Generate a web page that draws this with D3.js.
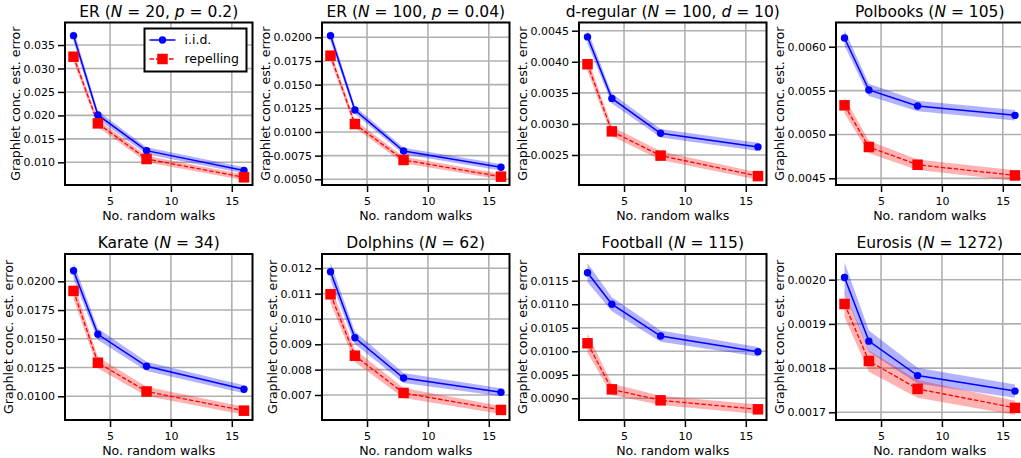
<!DOCTYPE html>
<html><head><meta charset="utf-8">
<script src="https://cdn.jsdelivr.net/npm/d3@7"></script>
<style>body{margin:0;background:#fff} svg{display:block} text{font-family:"DejaVu Sans",sans-serif;fill:#000}</style>
</head><body><svg id="c" width="1021" height="458"></svg>
<script>
// ---------- data ----------
const walks = [2, 4, 8, 16];
const xTicks = [5, 10, 15];
const titles = [
  [["ER (",0],["N",1],[" = 20, ",0],["p",1],[" = 0.2)",0]],
  [["ER (",0],["N",1],[" = 100, ",0],["p",1],[" = 0.04)",0]],
  [["d-regular (",0],["N",1],[" = 100, ",0],["d",1],[" = 10)",0]],
  [["Polbooks (",0],["N",1],[" = 105)",0]],
  [["Karate (",0],["N",1],[" = 34)",0]],
  [["Dolphins (",0],["N",1],[" = 62)",0]],
  [["Football (",0],["N",1],[" = 115)",0]],
  [["Eurosis (",0],["N",1],[" = 1272)",0]]
];
const iidMean = [
  [0.0370, 0.0201, 0.01248, 0.00827],
  [0.02017, 0.01232, 0.00799, 0.00627],
  [0.00440, 0.00341, 0.00285, 0.00263],
  [0.00610, 0.005507, 0.005324, 0.005218],
  [0.02092, 0.01539, 0.01261, 0.01061],
  [0.011866, 0.00926, 0.00767, 0.00711],
  [0.01167, 0.01100, 0.010324, 0.00999],
  [0.002005, 0.001861, 0.001783, 0.001748]
];
const iidSpread = [
  [0.0013, 0.00085, 0.00075, 0.00065],
  [0.0006, 0.0004, 0.00035, 0.00035],
  [0.00011, 0.00008, 0.00007, 0.000065],
  [0.00009, 0.00007, 0.00006, 0.00006],
  [0.0007, 0.0005, 0.0004, 0.00035],
  [0.00035, 0.00025, 0.0002, 0.00016],
  [0.0002, 0.00015, 0.00012, 0.0001],
  [0.000034, 0.000024, 0.000018, 0.000015]
];
const repMean = [
  [0.0325, 0.0183, 0.0107, 0.0068],
  [0.01806, 0.01084, 0.00704, 0.00528],
  [0.00396, 0.00288, 0.00249, 0.00216],
  [0.005332, 0.004857, 0.004655, 0.004533],
  [0.01916, 0.01292, 0.01042, 0.00875],
  [0.010974, 0.00855, 0.00708, 0.00641],
  [0.01017, 0.00919, 0.008957, 0.008766],
  [0.001945, 0.001816, 0.001753, 0.00171]
];
const repSpread = [
  [0.0010, 0.0008, 0.0007, 0.0006],
  [0.0005, 0.0004, 0.00035, 0.0003],
  [0.00011, 0.00008, 0.00007, 0.00006],
  [0.00009, 0.00007, 0.00006, 0.00006],
  [0.0007, 0.0005, 0.0004, 0.00035],
  [0.00035, 0.00025, 0.0002, 0.00016],
  [0.0002, 0.00012, 0.0001, 0.0001],
  [0.00003, 0.000024, 0.00002, 0.000016]
];
const yTicks = [
  [0.010, 0.015, 0.020, 0.025, 0.030, 0.035],
  [0.0050, 0.0075, 0.0100, 0.0125, 0.0150, 0.0175, 0.0200],
  [0.0025, 0.0030, 0.0035, 0.0040, 0.0045],
  [0.0045, 0.0050, 0.0055, 0.0060],
  [0.0100, 0.0125, 0.0150, 0.0175, 0.0200],
  [0.007, 0.008, 0.009, 0.010, 0.011, 0.012],
  [0.0090, 0.0095, 0.0100, 0.0105, 0.0110, 0.0115],
  [0.0017, 0.0018, 0.0019, 0.0020]
];
const yFormats = [".3f", ".4f", ".4f", ".4f", ".4f", ".3f", ".4f", ".4f"];
const yDomains = [
  [0.005162, 0.03980],
  [0.004398, 0.021563],
  [0.002017, 0.004632],
  [0.004424, 0.006276],
  [0.007939, 0.022374],
  [0.006013, 0.012564],
  [0.008539, 0.012068],
  [0.0016826, 0.0020581]
];
const xDomain = [1.3, 16.7];
const seriesNames = ["i.i.d.", "repelling"];
const xLabel = "No. random walks";
const yLabel = "Graphlet conc. est. error";

// ---------- layout ----------
const svg = d3.select("#c");
const W = 187.5;
const lefts = [65, 322, 579, 836];
const rows = [[22.5, 185], [254, 420]];
const BLUE = "#0000ff", RED = "#ff0000", GRID = "#b0b0b0";
const TICK = 7;

function drawSquare(g, cx, cy, s) {
  g.append("rect").attr("x", cx - s/2).attr("y", cy - s/2).attr("width", s).attr("height", s).attr("fill", RED);
}

titles.forEach((title, i) => {
  const col = i % 4, row = Math.floor(i / 4);
  const L = lefts[col], R = L + W, T = rows[row][0], B = rows[row][1];
  const x = d3.scaleLinear().domain(xDomain).range([L, R]);
  const y = d3.scaleLinear().domain(yDomains[i]).range([B, T]);
  const g = svg.append("g");
  const clipId = "clip" + i;
  svg.append("clipPath").attr("id", clipId).append("rect").attr("x", L).attr("y", T).attr("width", W).attr("height", B - T);

  // grid
  const grid = g.append("g").attr("clip-path", `url(#${clipId})`);
  xTicks.forEach(t => grid.append("line").attr("x1", x(t)).attr("x2", x(t)).attr("y1", T).attr("y2", B)
    .attr("stroke", GRID).attr("stroke-width", 1.6));
  yTicks[i].forEach(t => grid.append("line").attr("x1", L).attr("x2", R).attr("y1", y(t)).attr("y2", y(t))
    .attr("stroke", GRID).attr("stroke-width", 1.6));

  // data
  const plot = g.append("g").attr("clip-path", `url(#${clipId})`);
  const series = [
    {m: iidMean[i], s: iidSpread[i], c: BLUE},
    {m: repMean[i], s: repSpread[i], c: RED}
  ];
  series.forEach(se => {
    const pts = walks.map((w, k) => ({w, v: se.m[k], e: se.s[k]}));
    const area = d3.area().x(d => x(d.w)).y0(d => y(d.v - d.e)).y1(d => y(d.v + d.e));
    plot.append("path").attr("d", area(pts)).attr("fill", se.c).attr("fill-opacity", 0.3).attr("stroke", "none");
  });
  series.forEach((se, si) => {
    const pts = walks.map((w, k) => ({w, v: se.m[k]}));
    const line = d3.line().x(d => x(d.w)).y(d => y(d.v));
    const p = plot.append("path").attr("d", line(pts)).attr("fill", "none").attr("stroke", se.c);
    if (si === 0) p.attr("stroke-width", 1.5);
    else p.attr("stroke-width", 1.3).attr("stroke-dasharray", "4.5,2");
  });
  walks.forEach((w, k) => g.append("circle").attr("cx", x(w)).attr("cy", y(iidMean[i][k])).attr("r", 3.7).attr("fill", BLUE));
  walks.forEach((w, k) => drawSquare(g, x(w), y(repMean[i][k]), 10.5));

  // axes
  const ax = g.append("g").attr("transform", `translate(0,${B})`)
    .call(d3.axisBottom(x).tickValues(xTicks).tickFormat(d3.format("d")).tickSize(TICK).tickPadding(5));
  const ay = g.append("g").attr("transform", `translate(${L},0)`)
    .call(d3.axisLeft(y).tickValues(yTicks[i]).tickFormat(d3.format(yFormats[i])).tickSize(TICK).tickPadding(3));
  [ax, ay].forEach(a => {
    a.select(".domain").remove();
    a.selectAll(".tick line").attr("stroke", "#000").attr("stroke-width", 1.5);
    a.selectAll(".tick text").attr("font-size", 11).attr("font-family", '"DejaVu Sans",sans-serif').attr("fill", "#000");
  });
  g.append("rect").attr("x", L).attr("y", T).attr("width", W).attr("height", B - T)
    .attr("fill", "none").attr("stroke", "#000").attr("stroke-width", 2);

  // y label
  let minX = Infinity;
  ay.selectAll(".tick text").each(function() {
    const bb = this.getBBox();
    minX = Math.min(minX, L + bb.x);
  });
  const ylx = minX - 4, ylc = (T + B) / 2;
  g.append("text").attr("transform", `translate(${ylx},${ylc}) rotate(-90)`)
    .attr("text-anchor", "middle").attr("font-size", 12.6).text(yLabel);

  // x label
  g.append("text").attr("x", (L + R) / 2).attr("y", B + 34.5).attr("text-anchor", "middle")
    .attr("font-size", 12.6).text(xLabel);

  // title
  const tt = g.append("text").attr("x", (L + R) / 2).attr("y", T - 6).attr("text-anchor", "middle").attr("font-size", 15.5);
  title.forEach(([s, it]) => {
    const sp = tt.append("tspan").text(s);
    if (it) sp.attr("font-style", "italic");
  });

  // legend (first panel only)
  if (i === 0) {
    const lw = 102, lh = 43, lx = R - 6 - lw, ly = T + 6;
    const lg = g.append("g");
    lg.append("rect").attr("x", lx).attr("y", ly).attr("width", lw).attr("height", lh)
      .attr("fill", "#fff").attr("stroke", "#000").attr("stroke-width", 2);
    const rowsY = [ly + 11.5, ly + 30.5];
    lg.append("line").attr("x1", lx + 5).attr("x2", lx + 31).attr("y1", rowsY[0]).attr("y2", rowsY[0])
      .attr("stroke", BLUE).attr("stroke-width", 1.5);
    lg.append("circle").attr("cx", lx + 18).attr("cy", rowsY[0]).attr("r", 3.7).attr("fill", BLUE);
    lg.append("line").attr("x1", lx + 5).attr("x2", lx + 31).attr("y1", rowsY[1]).attr("y2", rowsY[1])
      .attr("stroke", RED).attr("stroke-width", 1.3).attr("stroke-dasharray", "4.5,2");
    drawSquare(lg, lx + 18, rowsY[1], 10.5);
    seriesNames.forEach((n, k) => lg.append("text").attr("x", lx + 40).attr("y", rowsY[k])
      .attr("dy", "0.35em").attr("font-size", 12.5).text(n));
  }
});
</script>
</body></html>
